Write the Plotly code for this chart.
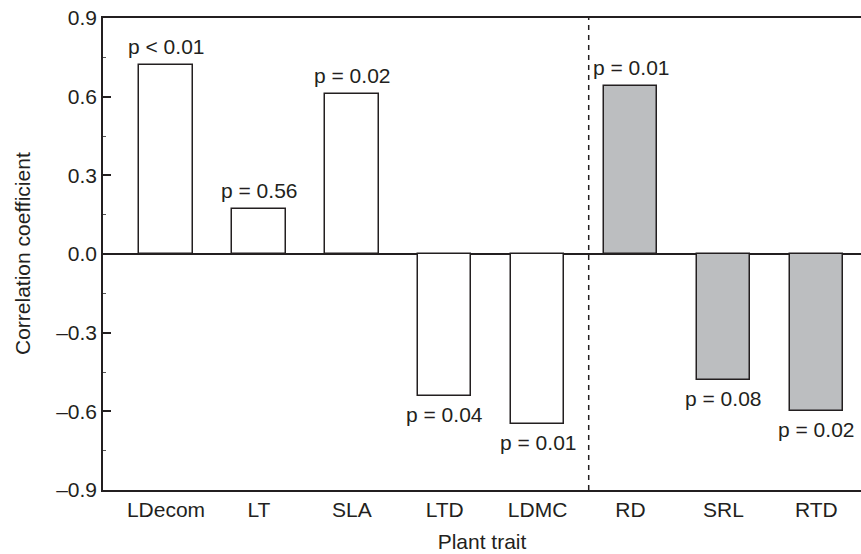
import plotly.graph_objects as go

# Correlation of plant traits with decomposition
traits = ["LDecom", "LT", "SLA", "LTD", "LDMC", "RD", "SRL", "RTD"]
corr = [0.72, 0.17, 0.61, -0.54, -0.65, 0.64, -0.48, -0.60]
pvals = ["p < 0.01", "p = 0.56", "p = 0.02", "p = 0.04", "p = 0.01",
         "p = 0.01", "p = 0.08", "p = 0.02"]
organ = ["leaf", "leaf", "leaf", "leaf", "leaf", "root", "root", "root"]

y_ticks = [-0.9, -0.6, -0.3, 0.0, 0.3, 0.6, 0.9]
y_ticktext = ["\u20130.9", "\u20130.6", "\u20130.3", "0.0", "0.3", "0.6", "0.9"]
y_minor = [-0.75, -0.45, -0.15, 0.15, 0.45, 0.75]

# separator between leaf and root traits (in category units)
divider_x = 4.55

INK = "#231f20"
FONT = "Liberation Sans, Arial, sans-serif"
FS = 21
fill = {"leaf": "#ffffff", "root": "#bcbec0"}

xpos = list(range(len(traits)))

fig = go.Figure()
fig.add_trace(go.Bar(
    x=xpos,
    y=corr,
    width=0.576,
    marker=dict(color=[fill[o] for o in organ],
                line=dict(color=INK, width=1.5)),
    showlegend=False,
    hovertext=pvals,
))

# p-value labels just beyond the end of each bar
for xi, v, p in zip(xpos, corr, pvals):
    fig.add_annotation(
        x=xi, y=v, xref="x", yref="y", text=p, showarrow=False,
        yanchor="bottom" if v >= 0 else "top",
        yshift=5 if v >= 0 else -5,
        font=dict(family=FONT, size=FS, color=INK),
    )

# y-axis title
fig.add_annotation(
    x=0, y=0.5, xref="paper", yref="paper", xshift=-81,
    text="Correlation coefficient", textangle=-90, showarrow=False,
    xanchor="center", yanchor="middle",
    font=dict(family=FONT, size=FS, color=INK),
)

fig.add_shape(type="line", xref="x", yref="paper",
              x0=divider_x, x1=divider_x, y0=0, y1=1,
              line=dict(color=INK, width=1.5, dash="5px,5px"))

fig.update_layout(
    width=861, height=554,
    margin=dict(l=103, r=0, t=18, b=64),
    paper_bgcolor="white",
    plot_bgcolor="white",
    font=dict(family=FONT, size=FS, color=INK),
    bargap=0,
    xaxis=dict(
        range=[-0.678, 7.481],
        tickmode="array",
        tickvals=xpos,
        ticktext=traits,
        ticks="",
        showline=True, linecolor=INK, linewidth=1.5, mirror=True,
        showgrid=False, zeroline=False,
        tickfont=dict(size=FS),
        title=dict(text="Plant trait", font=dict(size=FS), standoff=14),
    ),
    xaxis2=dict(
        overlaying="x", matches="x", side="top", anchor="y",
        tickmode="linear", tick0=-0.377, dtick=0.4844,
        ticks="inside", ticklen=3, tickwidth=1, tickcolor="#9a9a9a",
        showticklabels=False, showline=False, showgrid=False, zeroline=False,
    ),
    xaxis3=dict(
        overlaying="x", matches="x", anchor="free", position=0.5,
        tickmode="linear", tick0=-0.377, dtick=0.4844,
        ticks="outside", ticklen=3, tickwidth=1, tickcolor="#555555",
        showticklabels=False, showline=False, showgrid=False, zeroline=False,
    ),
    yaxis=dict(
        range=[-0.9, 0.9],
        tickmode="array",
        tickvals=y_ticks,
        ticktext=y_ticktext,
        ticks="inside", ticklen=8, tickwidth=1.5, tickcolor=INK,
        minor=dict(tickvals=y_minor, ticks="inside", ticklen=3,
                   tickwidth=1, tickcolor="#555555"),
        showline=True, linecolor=INK, linewidth=1.5,
        showgrid=False,
        zeroline=True, zerolinecolor=INK, zerolinewidth=1.5,
        tickfont=dict(size=FS),
    ),
)

fig.write_html("out.html")
